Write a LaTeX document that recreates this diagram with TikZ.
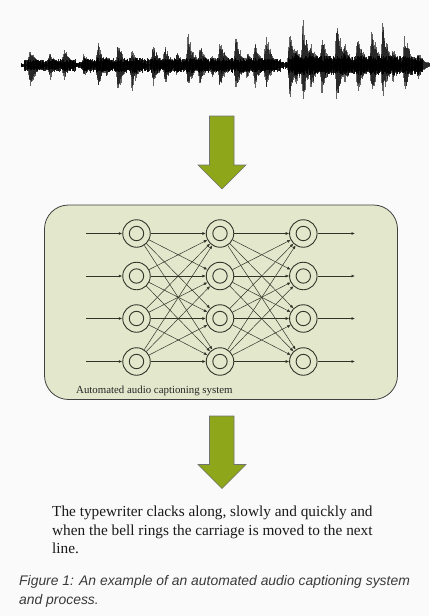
\documentclass[tikz,border=0pt]{standalone}
\usepackage{fontspec}
\setmainfont{Liberation Serif}
\newfontfamily\capfont{Liberation Sans}
\usetikzlibrary{arrows.meta}
\definecolor{bgc}{RGB}{250,250,250}
\definecolor{boxfill}{RGB}{227,231,203}
\definecolor{arrowgreen}{RGB}{141,166,26}
\definecolor{netline}{RGB}{50,52,42}
\definecolor{captext}{RGB}{58,58,58}
\tikzset{
  neuron/.style={circle,draw=netline,line width=0.9pt,minimum size=27.5pt,inner sep=0pt,fill=boxfill},
  edge/.style={draw=netline,line width=0.5pt,-{Latex[length=3.5pt,width=3pt]}},
  inarr/.style={draw=netline,line width=0.7pt,-{Latex[length=3.5pt,width=3pt]}},
  bigarrow/.style={fill=arrowgreen,draw=black!55,line width=0.6pt},
  bodytext/.style={anchor=base west,inner sep=0pt,font=\fontsize{15.3}{18}\selectfont,text=black!90},
  captiontext/.style={anchor=base west,inner sep=0pt,font=\capfont\itshape\fontsize{13.9}{16}\selectfont,text=captext},
}
\begin{document}
\begin{tikzpicture}[x=1pt,y=-1pt]
\useasboundingbox (0,0) rectangle (429,616);
\fill[bgc] (0,0) rectangle (429,616);
% ---------------- waveform ----------------
\pgfmathsetseed{11}
\foreach \x in {21,21.6,...,423}{
  \pgfmathsetmacro\b{(\x<24 ? 2 : (\x<76 ? 5.5 : (\x<83 ? 3 : (\x<281 ? 6.5 : (\x<288 ? 3.5 : (\x<419 ? 8.5 : 6))))))}
  \pgfmathsetmacro\u{\b*(0.5+0.6*rnd)}
  \pgfmathsetmacro\d{\b*(0.6+0.6*rnd)}
  \draw[black,line width=0.75pt,opacity=0.85] (\x,65-\u) -- (\x,65+\d);
}
\foreach \p/\up/\dn in {30/18/27,50/13/15,64/18/15,84/12/13,98/22/23,106/12/12,118/23/30,132/15/27,
  153/22/22,165/20/20,177/13/12,188/32/25,200/22/20,212/12/14,220/28/25,236/30/27,247/14/14,255/23/23,266/33/25,
  290/38/35,296/20/22,303/48/37,311/24/26,322/30/31,337/45/38,345/22/20,358/33/30,372/38/30,383/45/33,393/18/18,405/32/28,418/15/15}{
  \foreach \j in {-4,-3.5,...,16}{
    \pgfmathsetmacro\f{(\j<0 ? exp(-(\j/2)^2) : exp(-\j/6))}
    \pgfmathsetmacro\u{\up*\f*(0.55+0.45*rnd)}
    \pgfmathsetmacro\d{\dn*\f*(0.55+0.45*rnd)}
    \draw[black,line width=0.65pt,opacity=0.6] (\p+\j,65-\u) -- (\p+\j,65+\d);
  }
}
% ---------------- big arrows ----------------
\draw[bigarrow] (209.5,116) -- (234,116) -- (234,165) -- (246,165) -- (222,189) -- (198,165) -- (209.5,165) -- cycle;
\draw[bigarrow] (209.5,416) -- (234,416) -- (234,464.5) -- (246,464.5) -- (222,488.5) -- (198,464.5) -- (209.5,464.5) -- cycle;
% ---------------- system box ----------------
\draw[fill=boxfill,draw=black!75,line width=0.8pt,rounded corners=24pt] (44.5,205) rectangle (397.5,399.5);
\node[anchor=base west,inner sep=0pt,font=\fontsize{10.85}{12}\selectfont,text=black!85] (lbl) at (76,393.3) {Automated audio captioning system};
% neurons
\foreach \c/\cx in {1/136.5,2/220,3/303.3}{
  \foreach \r/\ry in {1/233.5,2/276,3/318.5,4/361.5}{
    \node[neuron] (n\c\r) at (\cx,\ry) {};
    \draw[netline,line width=0.9pt] (n\c\r.center) circle (7.2pt);
  }
}
% inputs and outputs
\foreach \r/\ry in {1/233.5,2/276,3/318.5,4/361.5}{
  \coordinate (in\r) at (86,\ry);
  \coordinate (out\r) at (355,\ry);
  \draw[inarr] (in\r) -- (n1\r);
  \draw[inarr] (n3\r) -- (out\r);
}
% connections
\foreach \i in {1,...,4}{
  \foreach \j in {1,...,4}{
    \draw[edge] (n1\i) -- (n2\j);
    \draw[edge] (n2\i) -- (n3\j);
  }
}
% ---------------- text ----------------
\node[bodytext] (t1) at (52,516.7) {The typewriter clacks along, slowly and quickly and};
\node[bodytext] (t2) at (52,535) {when the bell rings the carriage is moved to the next};
\node[bodytext] (t3) at (52,553.3) {line.};
\node[captiontext] (c1) at (19,585) {Figure 1: An example of an automated audio captioning system};
\node[captiontext] (c2) at (19,604) {and process.};
\end{tikzpicture}
\end{document}
